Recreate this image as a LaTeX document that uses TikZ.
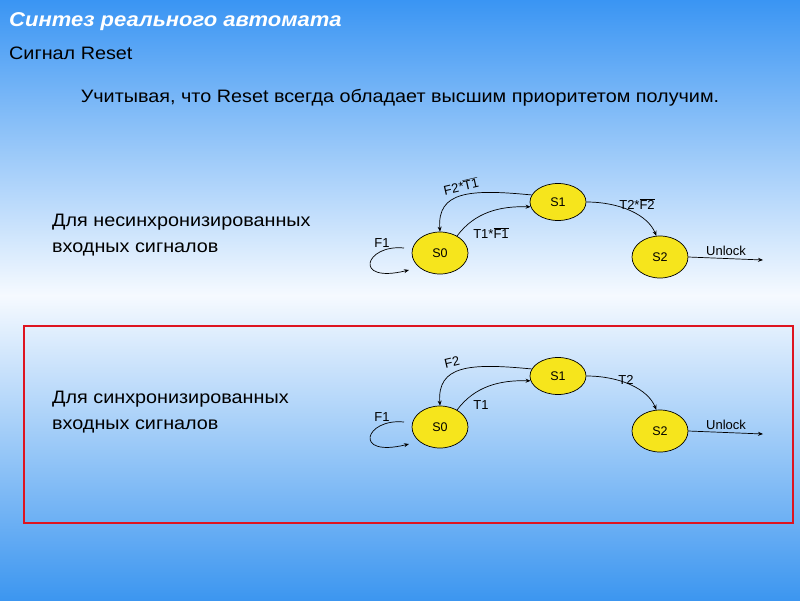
\documentclass[tikz,border=0pt]{standalone}
\usepackage{fontspec}
\setmainfont{Liberation Sans}
\usetikzlibrary{shapes.geometric,arrows.meta}
\definecolor{bgtop}{HTML}{3A95F3}
\definecolor{bgmid}{HTML}{F6FAFF}
\definecolor{bgbot}{HTML}{3C96F0}
\definecolor{stateyellow}{HTML}{F6E51C}
\definecolor{boxred}{HTML}{DE1420}
\newcommand\wtext[1]{\scalebox{1.1}[1]{#1}}
\begin{document}
\begin{tikzpicture}[x=1pt,y=-1pt,
  state/.style={ellipse, draw=black, line width=0.7pt, fill=stateyellow,
    minimum width=56pt, minimum height=42pt, inner sep=0pt,
    font=\fontsize{12.5}{14}\selectfont},
  conn/.style={-{Stealth[length=5pt,width=4pt]}, line width=0.7pt},
  lbl/.style={font=\fontsize{13}{15}\selectfont, inner sep=1pt},
  body/.style={font=\fontsize{18}{22}\selectfont, inner sep=0pt, text=black}]
\useasboundingbox (0,0) rectangle (800,600);
\shade[top color=bgtop, bottom color=bgmid] (0,0) rectangle (800,296);
\shade[top color=bgmid, bottom color=bgbot] (0,295) rectangle (800,600);

% titles and text
\node[anchor=base west, inner sep=0pt, text=white, font=\fontsize{20}{24}\selectfont\bfseries\itshape] (title) at (9,26) {\wtext{Синтез реального автомата}};
\node[anchor=base west, body] (sub) at (9,59) {\wtext{Сигнал Reset}};
\node[anchor=base, body] (intro) at (400,102) {\wtext{Учитывая, что Reset всегда обладает высшим приоритетом получим.}};
\node[anchor=base west, body] (txt1) at (52,226) {\wtext{Для несинхронизированных}};
\node[anchor=base west, body] (txt1b) at (52,252) {\wtext{входных сигналов}};
\node[anchor=base west, body] (txt2) at (52,403) {\wtext{Для синхронизированных}};
\node[anchor=base west, body] (txt2b) at (52,429) {\wtext{входных сигналов}};

% red frame
\draw[boxred, line width=2.4pt] (24,326) rectangle (793,523);

% diagram 1
\node[state] (a0) at (440,253) {S0};
\node[state, minimum height=37pt] (a1) at (558,202) {S1};
\node[state] (a2) at (660,257) {S2};
\coordinate (au) at (763,260);
\coordinate (al) at (404,248);
\coordinate (ae) at (409,270);
\draw[conn] (a2.east) -- (au);
\draw[conn] (a0.45) .. controls (475,212) and (500,206) .. (a1.190);
\draw[conn] (a1.165) .. controls (470,189) and (437,191) .. (a0.north);
\draw[conn] (a1.east) .. controls (620,202) and (648,215) .. (a2.100);
\draw[conn] (al) .. controls (365,244) and (352,284) .. (ae);
\node[lbl, anchor=base west] (aUl) at (705,255) {Unlock};
\node[lbl, rotate=13] (aF2) at (461,186) {F2*$\overline{\mbox{T1}}$};
\node[lbl] (aT1) at (491,233) {T1*$\overline{\mbox{F1}}$};
\node[lbl] (aT2) at (637,204) {T2*$\overline{\mbox{F2}}$};
\node[lbl] (aF1) at (382,243) {F1};

% diagram 2
\node[state] (b0) at (440,427) {S0};
\node[state, minimum height=37pt] (b1) at (558,376) {S1};
\node[state] (b2) at (660,431) {S2};
\coordinate (bu) at (763,434);
\coordinate (bl) at (404,422);
\coordinate (be) at (409,444);
\draw[conn] (b2.east) -- (bu);
\draw[conn] (b0.45) .. controls (475,386) and (500,380) .. (b1.190);
\draw[conn] (b1.165) .. controls (470,363) and (437,365) .. (b0.north);
\draw[conn] (b1.east) .. controls (620,376) and (648,389) .. (b2.100);
\draw[conn] (bl) .. controls (365,418) and (352,458) .. (be);
\node[lbl, anchor=base west] (bUl) at (705,429) {Unlock};
\node[lbl, rotate=13] (bF2) at (452,362) {F2};
\node[lbl] (bT1) at (481,405) {T1};
\node[lbl] (bT2) at (626,380) {T2};
\node[lbl] (bF1) at (382,417) {F1};
\end{tikzpicture}
\end{document}
